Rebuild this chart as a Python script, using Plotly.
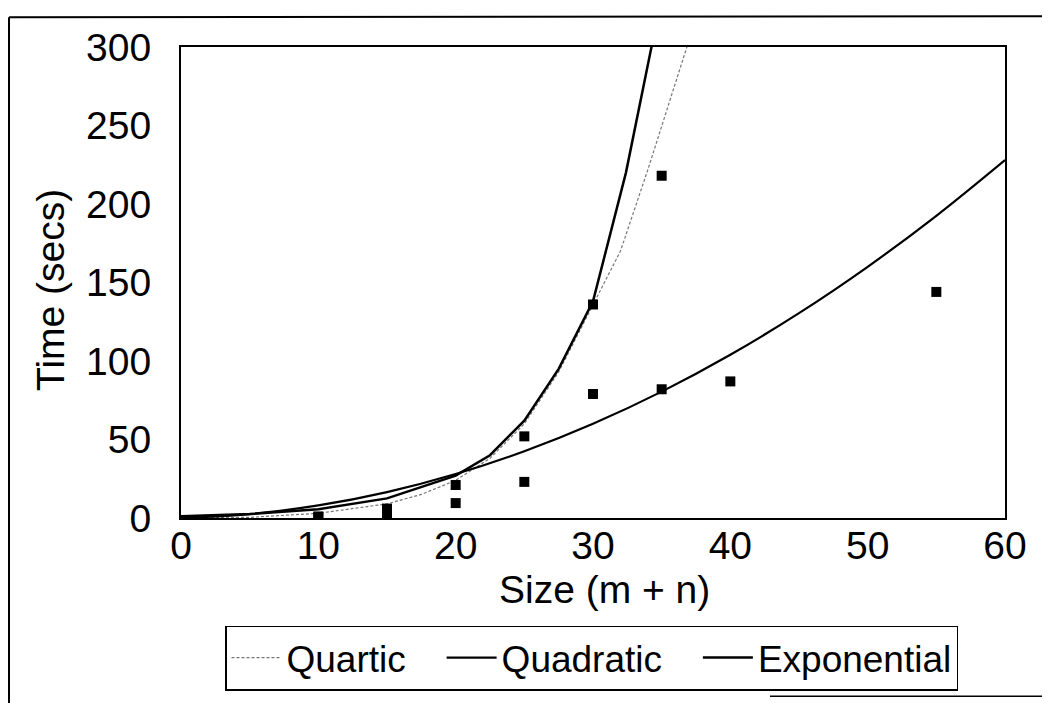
import plotly.graph_objects as go

# Measured data points (Size m+n vs Time secs)
size_x = [10, 10, 15, 15, 20, 20, 25, 25, 30, 30, 35, 35, 40, 55]
time_y = [1, 0.5, 1.5, 6, 9.5, 21, 23, 52, 79, 136, 82, 218, 87, 144]

# Trend curves
quartic_x = [0, 5, 10, 15, 17.5, 20, 22.5, 25, 27.5, 30, 32, 34, 36, 38]
quartic_y = [0, 0.4, 3, 9, 15, 24, 38, 60, 93, 136, 170, 222, 276, 332]

quadratic_x = [0, 5, 10, 15, 20, 25, 30, 35, 40, 45, 50, 55, 60]
quadratic_y = [0, 2.5, 8, 16.5, 28, 42.5, 60, 80.5, 104, 130.5, 160, 192.5, 228]

exponential_x = [0, 5, 10, 15, 20, 22.5, 25, 27.5, 30, 32.4, 35]
exponential_y = [1.1, 2.5, 5.6, 12.5, 27, 40, 62, 95, 138, 220, 332]

x_ticks = [0, 10, 20, 30, 40, 50, 60]
y_ticks = [0, 50, 100, 150, 200, 250, 300]

series_names = ["Quartic", "Quadratic", "Exponential"]

FONT = "Liberation Sans, Arial, Helvetica, sans-serif"
PAD = "\u00a0\u00a0\u00a0"

# plot area in screen pixels (page has an 8px body margin)
PL, PR, PT, PB = 181, 1005, 47, 520
PW, PH = PR - PL, PB - PT


def px(x):
    return (x - PL) / PW


def py(y):
    return (PB - y) / PH


fig = go.Figure()
fig.add_trace(go.Scatter(x=quartic_x, y=quartic_y, mode="lines", name=series_names[0] + PAD,
                         line=dict(color="#777777", width=1.2, dash="3px,2px")))
fig.add_trace(go.Scatter(x=quadratic_x, y=quadratic_y, mode="lines", name=series_names[1] + PAD,
                         line=dict(color="black", width=2.2, shape="spline")))
fig.add_trace(go.Scatter(x=exponential_x, y=exponential_y, mode="lines", name=series_names[2],
                         line=dict(color="black", width=2.5)))
fig.add_trace(go.Scatter(x=size_x, y=time_y, mode="markers", showlegend=False,
                         marker=dict(symbol="square", size=10, color="black")))

fig.update_layout(
    width=1042, height=695,
    margin=dict(l=PL - 8, r=1050 - PR, t=PT - 8, b=703 - PB),
    paper_bgcolor="white", plot_bgcolor="white",
    font=dict(family=FONT, color="black", size=39),
    showlegend=True,
    legend=dict(orientation="h", x=px(225), y=py(628), xanchor="left", yanchor="top",
                bordercolor="black", borderwidth=1.5, bgcolor="white", itemwidth=50,
                font=dict(size=37, family=FONT, color="black")),
    xaxis=dict(range=[0, 60], tickvals=x_ticks, showgrid=False, zeroline=False,
               showline=True, mirror=True, linecolor="black", linewidth=2,
               ticks="", tickfont=dict(size=39), ticklabelstandoff=-8),
    yaxis=dict(range=[0, 300], tickvals=y_ticks, showgrid=False, zeroline=False,
               showline=True, mirror=True, linecolor="black", linewidth=2,
               ticks="", tickfont=dict(size=39), ticklabelstandoff=20),
    annotations=[
        dict(text="Time (secs)", xref="paper", yref="paper",
             x=px(51), y=py(291), textangle=-90,
             showarrow=False, font=dict(size=39), xanchor="center", yanchor="middle"),
        dict(text="Size (m + n)", xref="paper", yref="paper",
             x=px(604), y=py(592),
             showarrow=False, font=dict(size=39), xanchor="center", yanchor="middle"),
    ],
    shapes=[
        dict(type="line", xref="paper", yref="paper",
             x0=px(9), x1=px(1060), y0=py(17), y1=py(16),
             line=dict(color="black", width=2)),
        dict(type="line", xref="paper", yref="paper",
             x0=px(9), x1=px(9), y0=py(17), y1=py(710),
             line=dict(color="black", width=2)),
        dict(type="line", xref="paper", yref="paper",
             x0=px(770), x1=px(1060), y0=py(699), y1=py(699),
             line=dict(color="black", width=1.5)),
    ],
)

fig.write_html("out.html")
